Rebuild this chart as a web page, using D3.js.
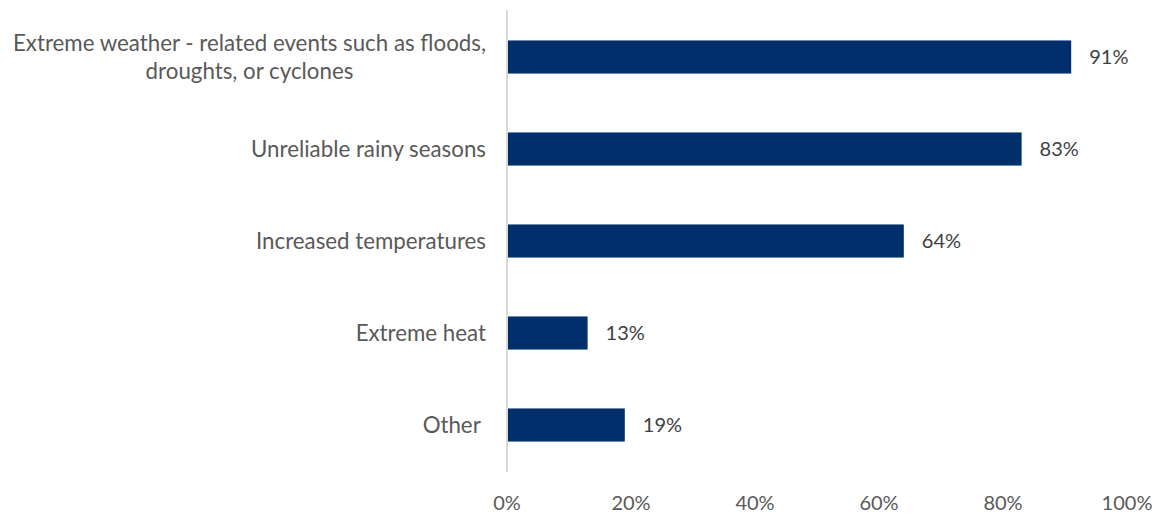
<!DOCTYPE html>
<html>
<head>
<meta charset="utf-8">
<script src="https://cdn.jsdelivr.net/npm/d3@7"></script>
<style>
  body { margin: 0; background: #fff; }
  text { font-family: Lato, "Open Sans", sans-serif; }
</style>
</head>
<body>
<div id="chart"></div>
<script>
// data
const categories = [
  ["Extreme weather - related events such as floods,", "droughts, or cyclones"],
  ["Unreliable rainy seasons"],
  ["Increased temperatures"],
  ["Extreme heat"],
  ["Other\u00a0"]
];
const values = [91, 83, 64, 13, 19];
const xTicks = [0, 20, 40, 60, 80, 100];

const width = 1161, height = 525;
const margin = {top: 11, right: 34, bottom: 54, left: 507};

const svg = d3.select("#chart").append("svg")
  .attr("width", width)
  .attr("height", height);

const x = d3.scaleLinear().domain([0, 100]).range([margin.left, width - margin.right]);
const y = d3.scaleBand().domain(d3.range(categories.length))
  .range([margin.top, height - margin.bottom])
  .paddingInner(0.64).paddingOuter(0.32);

// bars
svg.append("g")
  .selectAll("rect")
  .data(values)
  .join("rect")
  .attr("x", x(0))
  .attr("y", (d, i) => y(i))
  .attr("width", d => x(d) - x(0))
  .attr("height", y.bandwidth())
  .attr("fill", "#002F6C");

// value labels
svg.append("g")
  .selectAll("text")
  .data(values)
  .join("text")
  .attr("x", d => x(d) + 18)
  .attr("y", (d, i) => y(i) + y.bandwidth() / 2)
  .attr("dy", "0.35em")
  .attr("fill", "#404040")
  .style("font-size", "20px")
  .text(d => d + "%");

// y axis line
svg.append("line")
  .attr("x1", x(0)).attr("x2", x(0))
  .attr("y1", margin.top - 1).attr("y2", height - margin.bottom + 1)
  .attr("stroke", "#d9d9d9")
  .attr("stroke-width", 2);

// category labels (multi-line ones centered as a block, right edge at 486)
const labelRight = 486;
const cats = svg.append("g");
categories.forEach((lines, i) => {
  const cy = y(i) + y.bandwidth() / 2;
  const lh = 28;
  const t = cats.append("text")
    .attr("fill", "#595959")
    .style("font-size", "22.3px")
    .attr("text-anchor", lines.length > 1 ? "middle" : "end");
  lines.forEach((ln, j) => {
    t.append("tspan")
      .attr("x", labelRight)
      .attr("y", cy + (j - (lines.length - 1) / 2) * lh)
      .attr("dy", "0.35em")
      .text(ln);
  });
  if (lines.length > 1) {
    const w = t.node().getBBox().width;
    t.selectAll("tspan").attr("x", labelRight - w / 2);
  }
});

// x axis tick labels
svg.append("g")
  .selectAll("text")
  .data(xTicks)
  .join("text")
  .attr("x", d => x(d))
  .attr("y", 503)
  .attr("dy", "0.35em")
  .attr("text-anchor", "middle")
  .attr("fill", "#595959")
  .style("font-size", "20px")
  .text(d => d + "%");
</script>
</body>
</html>
